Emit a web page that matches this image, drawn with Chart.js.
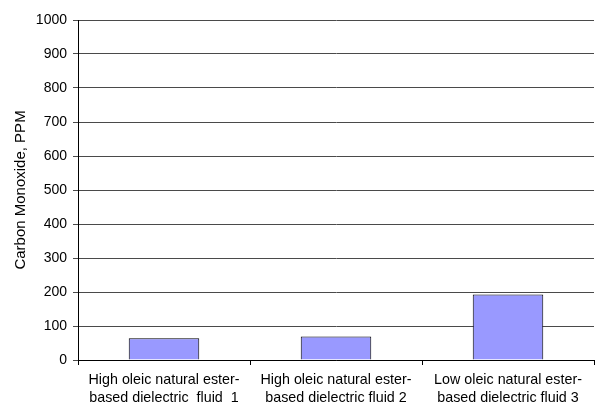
<!DOCTYPE html>
<html>
<head>
<meta charset="utf-8">
<script src="https://cdn.jsdelivr.net/npm/chart.js@4/dist/chart.umd.min.js"></script>
<style>
  html, body { margin: 0; padding: 0; background: #fff; }
  canvas { display: block; }
</style>
</head>
<body>
<canvas id="c" width="595" height="403"></canvas>
<script>
// Fluids tested and their carbon monoxide readings (ppm)
const categories = [
  ["High oleic natural ester-", "based dielectric  fluid  1"],
  ["High oleic natural ester-", "based dielectric fluid 2"],
  ["Low oleic natural ester-", "based dielectric fluid 3"]
];
const coValues = [64, 69, 193];
const yTicks = [0, 100, 200, 300, 400, 500, 600, 700, 800, 900, 1000];

const FONT = "Arial, 'Liberation Sans', sans-serif";

new Chart(document.getElementById("c"), {
  type: "bar",
  data: {
    labels: categories,
    datasets: [{
      data: coValues,
      backgroundColor: "#9999ff",
      borderColor: "#000000",
      borderWidth: 1,
      categoryPercentage: 1,
      barPercentage: 0.41
    }]
  },
  options: {
    responsive: false,
    animation: false,
    layout: { padding: { left: 0, top: 20, right: 1, bottom: 0 } },
    plugins: { legend: { display: false }, tooltip: { enabled: false } },
    scales: {
      x: {
        grid: {
          offset: true,
          drawOnChartArea: false,
          drawTicks: true,
          tickLength: 5,
          color: "#000"
        },
        border: { color: "#000", width: 1 },
        ticks: {
          color: "#000",
          font: { family: FONT, size: 14.3, lineHeight: 1.28 },
          padding: 6,
          maxRotation: 0,
          autoSkip: false
        },
        afterFit(scale) { scale.height = 43; }
      },
      y: {
        min: 0,
        max: 1000,
        afterBuildTicks(scale) { scale.ticks = yTicks.map(v => ({ value: v })); },
        grid: {
          color: "#4a4a4a",
          lineWidth: 1,
          tickLength: 5,
          drawTicks: true
        },
        border: { color: "#000", width: 1 },
        ticks: {
          color: "#000",
          font: { family: FONT, size: 14 },
          padding: 6,
          callback: (v) => String(v)
        },
        title: {
          display: true,
          text: "Carbon Monoxide, PPM",
          color: "#000",
          font: { family: FONT, size: 15 },
          padding: { top: 12, bottom: 0 }
        },
        afterFit(scale) { scale.width = 78; }
      }
    }
  }
});
</script>
</body>
</html>
